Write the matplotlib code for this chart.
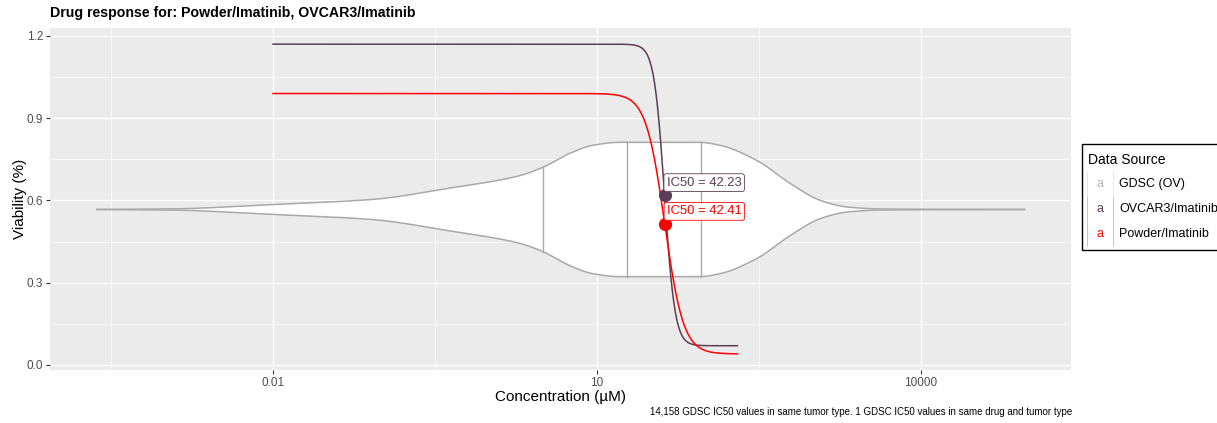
import numpy as np
import matplotlib
matplotlib.use("Agg")
import matplotlib.pyplot as plt
from matplotlib.patches import Rectangle
from matplotlib.lines import Line2D

plt.rcParams['font.family'] = ['Liberation Sans', 'DejaVu Sans']

# ---------------- data ----------------
title = "Drug response for: Powder/Imatinib, OVCAR3/Imatinib"
caption = "14,158 GDSC IC50 values in same tumor type. 1 GDSC IC50 values in same drug and tumor type"

# GDSC (OV) violin: log10 concentration vs half width (viability units)
violin_log_conc = [-3.63, -2.95, -2.0, -1.07, -0.33, -0.08, 0.29, 0.5, 0.75, 0.96,
                   1.21, 1.58, 1.95, 2.14, 2.48, 2.79, 3.07, 3.32, 3.62, 4.27, 4.96]
violin_half_width = [0.0, 0.002, 0.018, 0.037, 0.080, 0.095, 0.124, 0.154, 0.205, 0.234,
                     0.245, 0.245, 0.245, 0.234, 0.179, 0.095, 0.033, 0.009, 0.002, 0.0005, 0.0]
violin_center = 0.567
violin_quantiles = [3.16, 19.0, 91.8]

# Dose-response fits (Hill parameters)
series_names = ["OVCAR3/Imatinib", "Powder/Imatinib"]
series_top = [1.17, 0.99]
series_bottom = [0.07, 0.04]
series_ic50 = [42.23, 42.41]
series_slope = [9.0, 5.0]
conc_min, conc_max = 0.01, 200.0
series_colors = ["#5C3D55", "#FF0000"]

legend_labels = ["GDSC (OV)", "OVCAR3/Imatinib", "Powder/Imatinib"]
legend_colors = ["#B3B3B3", "#5C3D55", "#FF0000"]

x_ticks = [0.01, 10, 10000]
x_tick_labels = ["0.01", "10", "10000"]
y_ticks = [0.0, 0.3, 0.6, 0.9, 1.2]

# ---------------- figure ----------------
W, H = 1217, 423
fig = plt.figure(figsize=(W / 100, H / 100), dpi=100)
px = lambda x: x / W
py = lambda y: 1 - y / H
ax = fig.add_axes([px(50), py(370), px(1071) - px(50), py(28) - py(370)])
ax.set_facecolor("#EBEBEB")
for s in ax.spines.values():
    s.set_visible(False)

ax.set_xscale("log")
ax.set_xlim(10 ** -4.065, 10 ** 5.39)
ax.set_ylim(-0.0185, 1.229)

# grid
for v in [10 ** -3.5, 10 ** -0.5, 10 ** 2.5]:
    ax.axvline(v, color="white", lw=0.5, zorder=0)
for v in [0.15, 0.45, 0.75, 1.05]:
    ax.axhline(v, color="white", lw=0.5, zorder=0)
for v in x_ticks:
    ax.axvline(v, color="white", lw=1.0, zorder=0)
for v in y_ticks:
    ax.axhline(v, color="white", lw=1.0, zorder=0)

ax.set_xticks(x_ticks)
ax.set_xticklabels(x_tick_labels)
ax.xaxis.set_minor_locator(matplotlib.ticker.NullLocator())
ax.set_yticks(y_ticks)
ax.set_yticklabels([f"{v:.1f}" for v in y_ticks])
ax.tick_params(axis="both", which="major", length=3, width=0.8, color="#333333",
               labelcolor="#4D4D4D", labelsize=8.5, pad=2)

# violin
vx = np.array(violin_log_conc)
vw = np.array(violin_half_width)
xs = np.linspace(vx.min(), vx.max(), 400)

def pchip(x, y, xi):
    x = np.asarray(x, float); y = np.asarray(y, float)
    h = np.diff(x); d = np.diff(y) / h
    m = np.zeros_like(y)
    for k in range(1, len(x) - 1):
        if d[k - 1] * d[k] > 0:
            w1 = 2 * h[k] + h[k - 1]; w2 = h[k] + 2 * h[k - 1]
            m[k] = (w1 + w2) / (w1 / d[k - 1] + w2 / d[k])
    m[0] = d[0]; m[-1] = d[-1]
    idx = np.clip(np.searchsorted(x, xi) - 1, 0, len(x) - 2)
    t = (xi - x[idx]) / h[idx]
    h00 = 2 * t**3 - 3 * t**2 + 1; h10 = t**3 - 2 * t**2 + t
    h01 = -2 * t**3 + 3 * t**2; h11 = t**3 - t**2
    return h00 * y[idx] + h10 * h[idx] * m[idx] + h01 * y[idx + 1] + h11 * h[idx] * m[idx + 1]

ws = np.clip(pchip(vx, vw, xs), 0, None)
cx = 10 ** xs
ax.fill_between(cx, violin_center - ws, violin_center + ws, facecolor="white",
                edgecolor="none", zorder=2)
ax.plot(cx, violin_center + ws, color="#A9A9A9", lw=1.1, zorder=3)
ax.plot(cx, violin_center - ws, color="#A9A9A9", lw=1.1, zorder=3)
for q in violin_quantiles:
    wq = np.clip(pchip(vx, vw, np.array([np.log10(q)])), 0, None)[0]
    ax.plot([q, q], [violin_center - wq, violin_center + wq], color="#A9A9A9", lw=1.0, zorder=3)

# dose response curves
conc = np.logspace(np.log10(conc_min), np.log10(conc_max), 600)
for top, bot, ic, hs, col in zip(series_top, series_bottom, series_ic50, series_slope, series_colors):
    via = bot + (top - bot) / (1 + (conc / ic) ** hs)
    ax.plot(conc, via, color=col, lw=1.1, zorder=4)
for top, bot, ic, col in zip(series_top, series_bottom, series_ic50, series_colors):
    yv = (top + bot) / 2
    ax.plot([ic], [yv], "o", color=col, ms=9.5, zorder=6, markeredgewidth=0)
    ax.text(ic * 1.05, yv + 0.045, f"IC50 = {ic:.2f}", color=col, fontsize=9.4,
            ha="left", va="center", zorder=7,
            bbox=dict(boxstyle="round,pad=0.22,rounding_size=0.18", fc="white", ec=col, lw=0.6))

ax.set_xlabel("Concentration (\u00b5M)", fontsize=11, labelpad=1)
ax.set_ylabel("Viability (%)", fontsize=11, labelpad=0)

fig.text(px(50), py(13), title, fontsize=10.2, fontweight="bold", ha="left", va="center")
fig.text(px(1072), py(412), caption, fontsize=7.0, ha="right", va="center")

# legend (manual, clipped at figure edge)
fig.patches.append(Rectangle((px(1082), py(250)), px(1240) - px(1082), py(144) - py(250),
                             transform=fig.transFigure, fc="white", ec="black", lw=1.0))
fig.text(px(1088), py(160), "Data Source", fontsize=10, ha="left", va="center")
rows = [184, 209, 234]
for lab, col, yy in zip(legend_labels, legend_colors, rows):
    fig.text(px(1100), py(yy), "a", color=col, fontsize=9, ha="center", va="center")
    fig.text(px(1119), py(yy), lab, fontsize=9, ha="left", va="center")
    for xx in (1087, 1113):
        fig.lines.append(Line2D([px(xx), px(xx)], [py(yy - 12), py(yy + 12)],
                                transform=fig.transFigure, color=col, lw=0.5, alpha=0.45))

fig.savefig("out.png", dpi=100)
